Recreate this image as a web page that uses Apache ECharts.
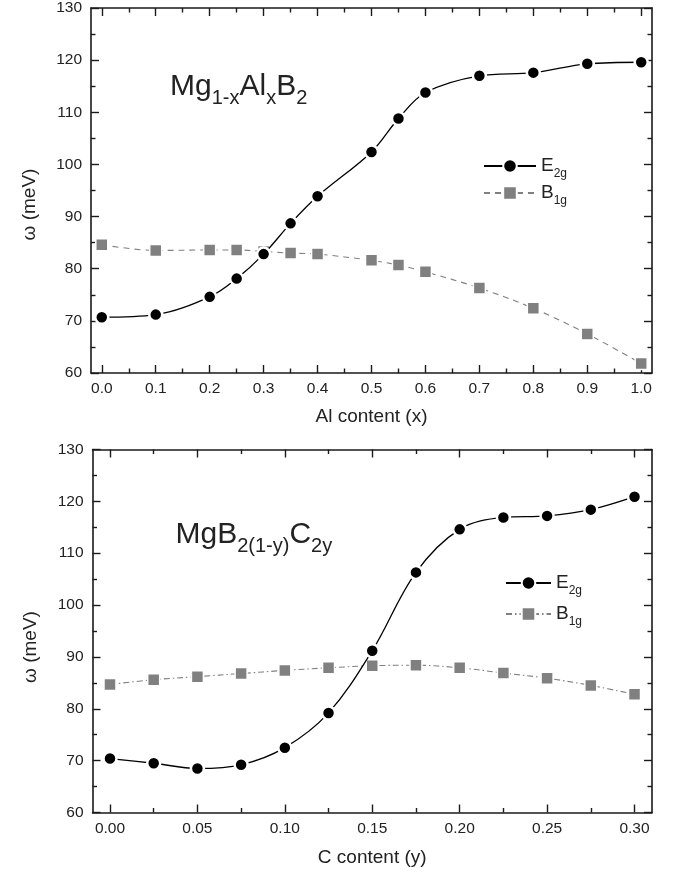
<!DOCTYPE html>
<html><head><meta charset="utf-8">
<script src="https://cdn.jsdelivr.net/npm/echarts@6/dist/echarts.min.js"></script>
<style>html,body{margin:0;padding:0;background:#fff}#c{width:674px;height:876px}</style>
</head><body><div id="c"></div>
<script>
// ---- data ----
const alX   = [0, 0.1, 0.2, 0.25, 0.3, 0.35, 0.4, 0.5, 0.55, 0.6, 0.7, 0.8, 0.9, 1.0];
const alE2g = [70.7, 71.2, 74.6, 78.1, 82.8, 88.7, 93.9, 102.4, 108.8, 113.8, 117.0, 117.6, 119.3, 119.6];
const alB1g = [84.6, 83.5, 83.6, 83.6, 83.3, 83.0, 82.8, 81.6, 80.7, 79.4, 76.3, 72.4, 67.5, 61.8];
const cX    = [0, 0.025, 0.05, 0.075, 0.1, 0.125, 0.15, 0.175, 0.2, 0.225, 0.25, 0.275, 0.3];
const cE2g  = [70.4, 69.5, 68.5, 69.2, 72.5, 79.2, 91.2, 106.3, 114.6, 116.9, 117.2, 118.4, 120.9];
const cB1g  = [84.7, 85.6, 86.2, 86.8, 87.4, 87.9, 88.3, 88.4, 87.9, 86.9, 85.9, 84.5, 82.8];
const alMajorTicks = [0, 0.1, 0.2, 0.3, 0.4, 0.5, 0.6, 0.7, 0.8, 0.9, 1.0];
const alMinorTicks = [0.05, 0.15, 0.25, 0.35, 0.45, 0.55, 0.65, 0.75, 0.85, 0.95];
const cMajorTicks  = [0, 0.05, 0.1, 0.15, 0.2, 0.25, 0.3];
const cMinorTicks  = [0.025, 0.075, 0.125, 0.175, 0.225, 0.275];
const yMin = 60, yMax = 130, yStep = 10;
const xTitles = ['Al content (x)', 'C content (y)'];
const yTitle = 'ω (meV)';

// ---- styles ----
const FONT = '"Liberation Sans", Arial, Helvetica, sans-serif';
const INK = '#1a1a1a';
const GRAY = '#808080';

function mkX(grid, min, max, ticks, opts) {
  return Object.assign({
    type: 'value', gridIndex: grid, min: min, max: max,
    position: opts.pos,
    splitLine: {show: false},
    axisLine: {show: !!opts.line, onZero: false, lineStyle: {color: INK, width: 1.6}},
    axisTick: {show: true, inside: true, length: opts.len, customValues: ticks, lineStyle: {color: INK, width: 1.4}},
    axisLabel: opts.labels ? {show: true, customValues: ticks, formatter: opts.fmt, fontFamily: FONT, fontSize: 15.5, color: '#222', margin: 8} : {show: false},
    silent: true
  }, opts.extra || {});
}
function mkY(grid, pos, withLabels, nameOpts) {
  const o = {
    type: 'value', gridIndex: grid, min: yMin, max: yMax, interval: yStep, position: pos,
    splitLine: {show: false},
    axisLine: {show: true, onZero: false, lineStyle: {color: INK, width: 1.6}},
    axisTick: {show: true, inside: true, length: 8, lineStyle: {color: INK, width: 1.4}},
    minorTick: {show: true, splitNumber: 2, length: 4.5, lineStyle: {color: INK, width: 1.4}},
    axisLabel: withLabels ? {show: true, fontFamily: FONT, fontSize: 15.5, color: '#222', margin: 9} : {show: false},
    silent: true
  };
  if (nameOpts) Object.assign(o, nameOpts);
  return o;
}
const f1 = v => v.toFixed(1);
const f2 = v => v.toFixed(2);
const xName = (t, gap) => ({name: t, nameLocation: 'middle', nameGap: gap,
  nameTextStyle: {fontFamily: FONT, fontSize: 19, color: '#222'}});
const yName = (pad) => ({name: yTitle, nameLocation: 'middle', nameGap: 52,
  nameTextStyle: {fontFamily: FONT, fontSize: 19, color: '#222', padding: [0, pad, 0, 0]}});

const xAxes = [
  mkX(0, -0.02, 1.02, alMajorTicks, {pos: 'bottom', line: true, len: 8, labels: true, fmt: f1, extra: xName(xTitles[0], 34)}),
  mkX(0, -0.02, 1.02, alMinorTicks, {pos: 'bottom', len: 4.5}),
  mkX(0, -0.02, 1.02, alMajorTicks, {pos: 'top', line: true, len: 8}),
  mkX(0, -0.02, 1.02, alMinorTicks, {pos: 'top', len: 4.5}),
  mkX(1, -0.01, 0.31, cMajorTicks, {pos: 'bottom', line: true, len: 8, labels: true, fmt: f2, extra: xName(xTitles[1], 36)}),
  mkX(1, -0.01, 0.31, cMinorTicks, {pos: 'bottom', len: 4.5}),
  mkX(1, -0.01, 0.31, cMajorTicks, {pos: 'top', line: true, len: 8}),
  mkX(1, -0.01, 0.31, cMinorTicks, {pos: 'top', len: 4.5})
];
const yAxes = [
  mkY(0, 'left', true, yName(28)),
  mkY(0, 'right', false),
  mkY(1, 'left', true, yName(32)),
  mkY(1, 'right', false)
];

const zip = (xs, ys) => xs.map((x, i) => [x, ys[i]]);
function eSeries(name, xi, yi, data) {
  return {name: name, type: 'line', xAxisIndex: xi, yAxisIndex: yi, data: data, smooth: 0.35,
    symbol: 'circle', symbolSize: 13,
    lineStyle: {color: '#000', width: 1.3},
    itemStyle: {color: '#000', borderColor: '#fff', borderWidth: 2.5},
    z: 3};
}
function bSeries(name, xi, yi, data, dash) {
  return {name: name, type: 'line', xAxisIndex: xi, yAxisIndex: yi, data: data, smooth: 0.35,
    symbol: 'rect', symbolSize: 12,
    lineStyle: {color: GRAY, width: 1.1, type: dash},
    itemStyle: {color: GRAY, borderColor: '#fff', borderWidth: 1.5},
    z: 2};
}
const legendFmt = n => n.startsWith('E') ? 'E{s|2g}' : 'B{s|1g}';
const legendText = {fontFamily: FONT, fontSize: 19, color: '#222', lineHeight: 19,
  rich: {s: {fontFamily: FONT, fontSize: 12, lineHeight: 12, color: '#222', padding: [16, 0, 0, 0]}}};

const titleRich = {
  s: {fontFamily: FONT, fontSize: 20, lineHeight: 20, color: '#222', padding: [22, 0, 0, 0]}
};

const option = {
  backgroundColor: '#fff',
  animation: false,
  grid: [
    {left: 91, top: 7, width: 561, height: 366},
    {left: 92.5, top: 449.5, width: 559.5, height: 363}
  ],
  xAxis: xAxes,
  yAxis: yAxes,
  legend: [
    {data: ['E_al', 'B_al'], orient: 'vertical', left: 483, top: 152, padding: 0, itemWidth: 52, itemHeight: 17, itemGap: -1,
     formatter: legendFmt, textStyle: legendText, selectedMode: false},
    {data: ['E_c', 'B_c'], orient: 'vertical', left: 505, top: 569, padding: 0, itemWidth: 45, itemHeight: 17, itemGap: 3,
     formatter: legendFmt, textStyle: legendText, selectedMode: false}
  ],
  graphic: [
    {type: 'text', left: 170, top: 66, silent: true,
     style: {text: 'Mg{s|1-x}Al{s|x}B{s|2}', fontFamily: FONT, fontSize: 30, lineHeight: 30, fill: '#222', rich: titleRich}},
    {type: 'text', left: 175.5, top: 514, silent: true,
     style: {text: 'MgB{s|2(1-y)}C{s|2y}', fontFamily: FONT, fontSize: 30, lineHeight: 30, fill: '#222', rich: titleRich}}
  ],
  series: [
    bSeries('B_al', 0, 0, zip(alX, alB1g), [6, 5]),
    eSeries('E_al', 0, 0, zip(alX, alE2g)),
    bSeries('B_c', 4, 2, zip(cX, cB1g), [6, 3, 1.5, 3]),
    eSeries('E_c', 4, 2, zip(cX, cE2g))
  ]
};
const chart = echarts.init(document.getElementById('c'), null, {renderer: 'canvas'});
chart.setOption(option);
</script>
</body></html>
